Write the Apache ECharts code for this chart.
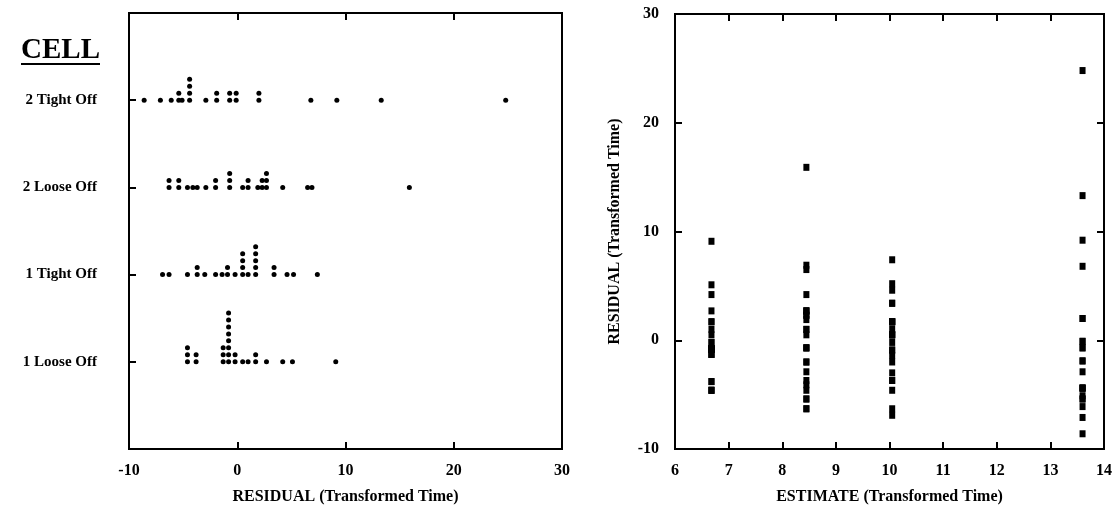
<!DOCTYPE html>
<html>
<head>
<meta charset="utf-8">
<script src="https://cdn.jsdelivr.net/npm/echarts@6/dist/echarts.min.js"></script>
<style>
  html, body { margin: 0; padding: 0; background: #fff; }
  #app { width: 1115px; height: 513px; }
</style>
</head>
<body>
<div id="app"></div>
<script>
// cells, bottom to top, and the fitted estimate of each cell
const cells = ['1 Loose Off', '1 Tight Off', '2 Loose Off', '2 Tight Off'];
const estimates = [6.68, 10.05, 8.45, 13.6];

// residuals (transformed time) per cell
const looseOff1 = [-4.6, -4.6, -4.6, -3.8, -3.8, -1.3, -1.3, -1.3, -0.8, -0.8, -0.8, -0.8, -0.8, -0.8, -0.8, -0.8,
  -0.2, -0.2, 0.5, 1.0, 1.7, 1.7, 2.7, 4.2, 5.1, 9.1];
const tightOff1 = [-6.9, -6.3, -4.6, -3.7, -3.7, -3.0, -2.0, -1.4, -0.9, -0.9, -0.2, 0.5, 0.5, 0.5, 0.5, 1.0,
  1.7, 1.7, 1.7, 1.7, 1.7, 3.4, 3.4, 4.6, 5.2, 7.4];
const looseOff2 = [-6.3, -6.3, -5.4, -5.4, -4.6, -4.1, -3.7, -2.9, -2.0, -2.0, -0.7, -0.7, -0.7, 0.5, 1.0, 1.0,
  1.9, 2.3, 2.3, 2.7, 2.7, 2.7, 4.2, 6.5, 6.9, 15.9];
const tightOff2 = [-8.6, -7.1, -6.1, -5.4, -5.4, -5.1, -4.4, -4.4, -4.4, -4.4, -2.9, -1.9, -1.9, -0.7, -0.7,
  -0.1, -0.1, 2.0, 2.0, 6.8, 9.2, 13.3, 24.8];

const residuals = [looseOff1, tightOff1, looseOff2, tightOff2];

// axis ticks
const residualTicks = { min: -10, max: 30, interval: 10 };
const estimateTicks = { min: 6, max: 14, interval: 1 };

const FONT = 'Liberation Serif';
const STACK = 0.08; // vertical step between tied dots, in cell units

// dot plot: tied values pile up above the cell line
const dotData = [];
residuals.forEach((vals, i) => {
  const seen = {};
  vals.forEach(v => {
    const k = v.toFixed(1);
    const lvl = seen[k] || 0;
    seen[k] = lvl + 1;
    dotData.push([v, i + 1 + lvl * STACK]);
  });
});

// residual vs estimate
const scatterData = [];
residuals.forEach((vals, i) => {
  vals.forEach(v => scatterData.push([estimates[i], v]));
});

const labelStyle = { color: '#000', fontFamily: FONT, fontWeight: 'bold', fontSize: 16 };
const tickIn = { show: true, inside: true, length: 7, lineStyle: { color: '#000', width: 2 } };
const noLine = { show: false, onZero: false };

const chart = echarts.init(document.getElementById('app'), null, { renderer: 'canvas' });

chart.setOption({
  backgroundColor: '#fff',
  animation: false,
  grid: [
    { left: 129, top: 13, width: 433, height: 436, show: true, borderColor: '#000', borderWidth: 2 },
    { left: 675, top: 14, width: 433, height: 435, show: true, borderColor: '#000', borderWidth: 2 }
  ],
  xAxis: [
    {
      gridIndex: 0, type: 'value', position: 'bottom', ...residualTicks,
      axisLine: noLine, axisTick: tickIn, splitLine: noLine,
      axisLabel: { ...labelStyle, margin: 14 },
      name: 'RESIDUAL (Transformed Time)', nameLocation: 'middle', nameGap: 40,
      nameTextStyle: { ...labelStyle }
    },
    {
      gridIndex: 0, type: 'value', position: 'top', ...residualTicks,
      axisLine: noLine, axisTick: tickIn, splitLine: noLine, axisLabel: { show: false }
    },
    {
      gridIndex: 1, type: 'value', position: 'bottom', ...estimateTicks,
      axisLine: noLine, axisTick: tickIn, splitLine: noLine,
      axisLabel: { ...labelStyle, margin: 14 },
      name: 'ESTIMATE (Transformed Time)', nameLocation: 'middle', nameGap: 40,
      nameTextStyle: { ...labelStyle }
    },
    {
      gridIndex: 1, type: 'value', position: 'top', ...estimateTicks,
      axisLine: noLine, axisTick: tickIn, splitLine: noLine, axisLabel: { show: false }
    }
  ],
  yAxis: [
    {
      gridIndex: 0, type: 'value', min: 0, max: 5, interval: 1,
      axisLine: noLine, axisTick: tickIn, splitLine: noLine,
      axisLabel: {
        ...labelStyle, fontSize: 15, margin: 32,
        formatter: v => cells[v - 1] || ''
      }
    },
    {
      gridIndex: 1, type: 'value', position: 'left', min: -10, max: 30, interval: 10,
      axisLine: noLine, axisTick: tickIn, splitLine: noLine,
      axisLabel: { ...labelStyle, margin: 16 },
      name: 'RESIDUAL (Transformed Time)', nameLocation: 'middle', nameRotate: 90, nameGap: 52,
      nameTextStyle: { ...labelStyle }
    },
    {
      gridIndex: 1, type: 'value', position: 'right', min: -10, max: 30, interval: 10,
      axisLine: noLine, axisTick: tickIn, splitLine: noLine, axisLabel: { show: false }
    }
  ],
  graphic: [
    {
      type: 'text', left: 21, top: 36,
      style: { text: 'CELL', fill: '#000', font: 'bold 29px "' + FONT + '"' }
    },
    {
      type: 'rect', shape: { x: 21, y: 63, width: 79, height: 2 },
      style: { fill: '#000' }
    }
  ],
  series: [
    {
      type: 'scatter', xAxisIndex: 0, yAxisIndex: 0, data: dotData,
      symbol: 'circle', symbolSize: 5, itemStyle: { color: '#000', opacity: 1 }
    },
    {
      type: 'scatter', xAxisIndex: 2, yAxisIndex: 1, data: scatterData,
      symbol: 'rect', symbolSize: [6, 7], itemStyle: { color: '#000', opacity: 1 }
    }
  ]
});
</script>
</body>
</html>
